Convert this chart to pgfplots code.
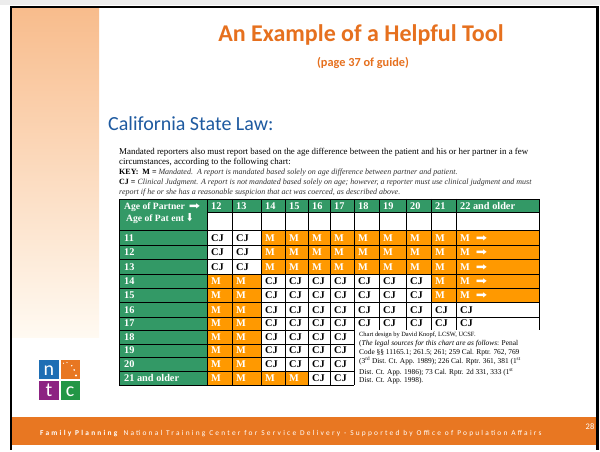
\documentclass[border=0pt]{standalone}
\usepackage{graphicx}
\usepackage{pgfplots}
\pgfplotsset{compat=1.18}
\usepackage{fontspec}
\setmainfont{Liberation Serif}
\newfontfamily\calfont{Carlito}
\newfontfamily\footfont{Carlito}[LetterSpace=30]
\newfontfamily\dvfont{DejaVu Sans}
\definecolor{tgreen}{RGB}{51,153,102}
\definecolor{torange}{RGB}{255,153,0}
\definecolor{ttitle}{RGB}{230,112,30}
\definecolor{tfoot}{RGB}{232,119,34}
\definecolor{tblue}{RGB}{30,90,160}
\definecolor{ptop}{RGB}{248,188,140}
\definecolor{pbot}{RGB}{255,250,242}
\definecolor{lblue}{RGB}{30,110,180}
\definecolor{lpurple}{RGB}{140,35,130}
\definecolor{lgreen}{RGB}{35,150,70}
\definecolor{itgray}{RGB}{50,50,50}
\newcommand{\rarr}{{\dvfont\fontsize{10}{10}\selectfont\scalebox{1.35}[1]{➡}}}
\newcommand{\darr}{{\dvfont\fontsize{11}{11}\selectfont\scalebox{0.8}[1]{⬇}}}
\newcommand{\tfont}{\fontsize{10.3}{12}\selectfont\bfseries}
\begin{document}
\begin{tikzpicture}
\begin{axis}[
  scale only axis, width=600pt, height=445pt,
  xmin=0, xmax=600, ymin=0, ymax=445, y dir=reverse,
  hide axis, clip=false,
]
% background and frame
\fill[white] (axis cs:0,0) rectangle (axis cs:600,445);
\fill[gray!15] (axis cs:0,0) rectangle (axis cs:600,5.5);
\fill[top color=ptop, bottom color=pbot] (axis cs:12,7.5) rectangle (axis cs:99,338);
\fill[tfoot] (axis cs:11,417) rectangle (axis cs:597,445);
\draw[black, line width=2.2pt] (axis cs:11,450) -- (axis cs:11,6.8) -- (axis cs:597.5,6.8) -- (axis cs:597.5,450);
% logo
\fill[lblue] (axis cs:39,360) rectangle (axis cs:59,379.5);
\fill[tfoot] (axis cs:60.5,360) rectangle (axis cs:80,379.5);
\fill[lpurple] (axis cs:39,381) rectangle (axis cs:59,400);
\fill[lgreen] (axis cs:60.5,381) rectangle (axis cs:80,400);
\node[anchor=base, inner sep=0pt, text=white, font=\calfont\fontsize{20}{20}\selectfont] at (axis cs:49,376) {n};
\node[anchor=base, inner sep=0pt, text=white, font=\calfont\fontsize{20}{20}\selectfont] at (axis cs:49,397) {t};
\node[anchor=base, inner sep=0pt, text=white, font=\calfont\fontsize{20}{20}\selectfont] at (axis cs:70,397) {c};
\fill[white] (axis cs:63.5,363.3) circle (0.55pt);
\fill[white] (axis cs:67,362.6) circle (0.65pt);
\fill[white] (axis cs:71.7,365.7) circle (0.8pt);
\fill[white] (axis cs:74.2,370) circle (0.95pt);
\fill[white] (axis cs:76,375.5) circle (1.1pt);
% titles
\node[anchor=base, inner sep=0pt, text=ttitle, font=\calfont\fontsize{24}{24}\selectfont\bfseries] at (axis cs:361,41.5) {An Example of a Helpful Tool};
\node[anchor=base, inner sep=0pt, text=ttitle, font=\calfont\fontsize{12.3}{13}\selectfont\bfseries] at (axis cs:363,66.5) {(page 37 of guide)};
\node[anchor=base west, inner sep=0pt, text=tblue, font=\calfont\fontsize{20}{20}\selectfont] at (axis cs:108,131) {California State Law:};
% paragraph
\node[anchor=base west, inner sep=0pt, font=\fontsize{8.9}{9}\selectfont] at (axis cs:119,154.5) {Mandated reporters also must report based on the age difference between the patient and his or her partner in a few};
\node[anchor=base west, inner sep=0pt, font=\fontsize{8.9}{9}\selectfont] at (axis cs:119,164.5) {circumstances, according to the following chart:};
\node[anchor=base west, inner sep=0pt, font=\fontsize{8.0}{9}\selectfont] at (axis cs:119,174.5) {\textbf{KEY:\ \ M =} \textcolor{itgray}{\textit{Mandated.\ \ A report is mandated based solely on age difference between partner and patient.}}};
\node[anchor=base west, inner sep=0pt, font=\fontsize{8.0}{9}\selectfont] at (axis cs:119,184.5) {\textbf{CJ =} \textcolor{itgray}{\textit{Clinical Judgment. A report is not mandated based solely on age; however, a reporter must use clinical judgment and must}}};
\node[anchor=base west, inner sep=0pt, font=\fontsize{8.0}{9}\selectfont] at (axis cs:119,194.5) {\textcolor{itgray}{\textit{report if he or she has a reasonable suspicion that act was coerced, as described above.}}};
% table: green areas
\fill[tgreen] (axis cs:119,199) rectangle (axis cs:539,212);
\fill[tgreen] (axis cs:119,212) rectangle (axis cs:207,385);
% table: mandated (orange) cells
\addplot[fill=torange, draw=none] coordinates {(261,230) (539,230) (539,274) (261,274)} -- cycle;
\addplot[fill=torange, draw=none] coordinates {(207,274) (261,274) (261,302) (207,302)} -- cycle;
\addplot[fill=torange, draw=none] coordinates {(431,274) (539,274) (539,302) (431,302)} -- cycle;
\addplot[fill=torange, draw=none] coordinates {(207,302) (261,302) (261,385) (207,385)} -- cycle;
\addplot[fill=torange, draw=none] coordinates {(261,371) (308,371) (308,385) (261,385)} -- cycle;
% grid lines
\pgfplotsinvokeforeach{212,230,245,259,274,288,302,317}{\draw[black, line width=0.9pt] (axis cs:207,#1) -- (axis cs:539,#1);}
\pgfplotsinvokeforeach{330,344,357,371,385}{\draw[black, line width=0.9pt] (axis cs:207,#1) -- (axis cs:354,#1);}
\pgfplotsinvokeforeach{207,232,261,285,308,330,354}{\draw[black, line width=0.9pt] (axis cs:#1,199) -- (axis cs:#1,385);}
\pgfplotsinvokeforeach{379,406,431,456}{\draw[black, line width=0.9pt] (axis cs:#1,199) -- (axis cs:#1,330);}
\pgfplotsinvokeforeach{230,245,259,274,288,302,317,330,344,357,371}{\draw[black, line width=0.8pt] (axis cs:119,#1) -- (axis cs:207,#1);}
\draw[black, line width=0.9pt] (axis cs:539,330) -- (axis cs:539,199) -- (axis cs:119,199) -- (axis cs:119,385) -- (axis cs:207,385);
% header texts
\node[anchor=base west, inner sep=0pt, text=white, font=\fontsize{9.6}{11}\selectfont\bfseries] at (axis cs:124,209.5) {Age of Partner\hspace{4pt}\rarr};
\node[anchor=base west, inner sep=0pt, text=white, font=\fontsize{9.6}{11}\selectfont\bfseries] at (axis cs:126,222) {Age of Pat ent\hspace{2pt}\darr};
\node[anchor=base west, inner sep=0pt, text=white, font=\tfont] at (axis cs:211,209.5) {12};
\node[anchor=base west, inner sep=0pt, text=white, font=\tfont] at (axis cs:236,209.5) {13};
\node[anchor=base west, inner sep=0pt, text=white, font=\tfont] at (axis cs:265,209.5) {14};
\node[anchor=base west, inner sep=0pt, text=white, font=\tfont] at (axis cs:289,209.5) {15};
\node[anchor=base west, inner sep=0pt, text=white, font=\tfont] at (axis cs:312,209.5) {16};
\node[anchor=base west, inner sep=0pt, text=white, font=\tfont] at (axis cs:334,209.5) {17};
\node[anchor=base west, inner sep=0pt, text=white, font=\tfont] at (axis cs:358,209.5) {18};
\node[anchor=base west, inner sep=0pt, text=white, font=\tfont] at (axis cs:383,209.5) {19};
\node[anchor=base west, inner sep=0pt, text=white, font=\tfont] at (axis cs:410,209.5) {20};
\node[anchor=base west, inner sep=0pt, text=white, font=\tfont] at (axis cs:435,209.5) {21};
\node[anchor=base west, inner sep=0pt, text=white, font=\tfont] at (axis cs:460,209.5) {22 and older};
% row labels
\node[anchor=base west, inner sep=0pt, text=white, font=\tfont] at (axis cs:124,242) {11};
\node[anchor=base west, inner sep=0pt, text=white, font=\tfont] at (axis cs:124,256) {12};
\node[anchor=base west, inner sep=0pt, text=white, font=\tfont] at (axis cs:124,271) {13};
\node[anchor=base west, inner sep=0pt, text=white, font=\tfont] at (axis cs:124,285) {14};
\node[anchor=base west, inner sep=0pt, text=white, font=\tfont] at (axis cs:124,299) {15};
\node[anchor=base west, inner sep=0pt, text=white, font=\tfont] at (axis cs:124,314) {16};
\node[anchor=base west, inner sep=0pt, text=white, font=\tfont] at (axis cs:124,327) {17};
\node[anchor=base west, inner sep=0pt, text=white, font=\tfont] at (axis cs:124,341) {18};
\node[anchor=base west, inner sep=0pt, text=white, font=\tfont] at (axis cs:124,354) {19};
\node[anchor=base west, inner sep=0pt, text=white, font=\tfont] at (axis cs:124,368) {20};
\node[anchor=base west, inner sep=0pt, text=white, font=\tfont] at (axis cs:124,382) {21 and older};
% cell contents: CJ (clinical judgment)
\addplot[draw=none, nodes near coords={CJ},
  every node near coord/.append style={anchor=base west, inner sep=0pt, text=black, font=\tfont}]
coordinates {
(211,242) (236,242) (211,256) (236,256) (211,271) (236,271)
(265,285) (289,285) (312,285) (334,285) (358,285) (383,285) (410,285)
(265,299) (289,299) (312,299) (334,299) (358,299) (383,299) (410,299)
(265,314) (289,314) (312,314) (334,314) (358,314) (383,314) (410,314) (435,314) (460,314)
(265,327) (289,327) (312,327) (334,327) (358,327) (383,327) (410,327) (435,327) (460,327)
(265,341) (289,341) (312,341) (334,341)
(265,354) (289,354) (312,354) (334,354)
(265,368) (289,368) (312,368) (334,368)
(312,382) (334,382)
};
% cell contents: M (mandated)
\addplot[draw=none, nodes near coords={M},
  every node near coord/.append style={anchor=base west, inner sep=0pt, text=white, font=\tfont}]
coordinates {
(265,242) (289,242) (312,242) (334,242) (358,242) (383,242) (410,242) (435,242)
(265,256) (289,256) (312,256) (334,256) (358,256) (383,256) (410,256) (435,256)
(265,271) (289,271) (312,271) (334,271) (358,271) (383,271) (410,271) (435,271)
(211,285) (236,285) (435,285)
(211,299) (236,299) (435,299)
(211,314) (236,314) (211,327) (236,327) (211,341) (236,341)
(211,354) (236,354) (211,368) (236,368)
(211,382) (236,382) (265,382) (289,382)
};
\addplot[draw=none, nodes near coords={M\hspace{6pt}\rarr},
  every node near coord/.append style={anchor=base west, inner sep=0pt, text=white, font=\tfont}]
coordinates {(460,242) (460,256) (460,271) (460,285) (460,299)};
% note text
\node[anchor=base west, inner sep=0pt, font=\fontsize{6.4}{7}\selectfont] at (axis cs:359,337) {Chart design by David Knopf, LCSW, UCSF.};
\node[anchor=base west, inner sep=0pt, font=\fontsize{7.4}{8}\selectfont] at (axis cs:359,346) {(\textit{The legal sources for this chart are as follows}: Penal};
\node[anchor=base west, inner sep=0pt, font=\fontsize{7.4}{8}\selectfont] at (axis cs:359,355) {Code §§ 11165.1; 261.5; 261; 259 Cal. Rptr. 762, 769};
\node[anchor=base west, inner sep=0pt, font=\fontsize{7.4}{8}\selectfont] at (axis cs:359,364) {(3\textsuperscript{rd} Dist. Ct. App. 1989); 226 Cal. Rptr. 361, 381 (1\textsuperscript{st}};
\node[anchor=base west, inner sep=0pt, font=\fontsize{7.4}{8}\selectfont] at (axis cs:359,374.5) {Dist. Ct. App. 1986); 73 Cal. Rptr. 2d 331, 333 (1\textsuperscript{st}};
\node[anchor=base west, inner sep=0pt, font=\fontsize{7.4}{8}\selectfont] at (axis cs:359,383) {Dist. Ct. App. 1998).};
% footer
\node[anchor=base west, inner sep=0pt, text=white, font=\footfont\fontsize{7.4}{8}\selectfont] at (axis cs:40,435.5) {\textbf{Family Planning} National Training Center for Service Delivery - Supported by Office of Population Affairs};
\node[anchor=base, inner sep=0pt, text=white, font=\calfont\fontsize{8.5}{9}\selectfont] at (axis cs:590,430) {28};
\end{axis}
\end{tikzpicture}
\end{document}
